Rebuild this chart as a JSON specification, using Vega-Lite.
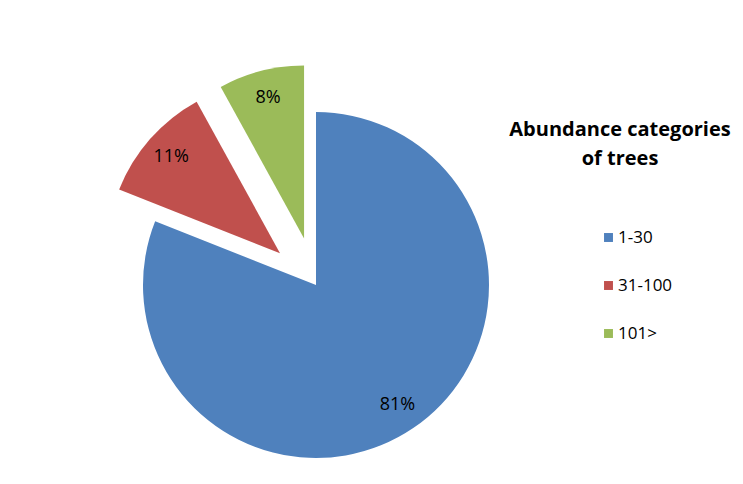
{
  "$schema": "https://vega.github.io/schema/vega-lite/v6.json",
  "width": 616,
  "height": 398,
  "autosize": "none",
  "padding": {"left": 8, "top": 86, "right": 119, "bottom": 0},
  "background": "white",
  "config": {"view": {"stroke": null}},
  "data": {"values": [
    {"category": "1-30", "share": 0.81, "rank": 1},
    {"category": "31-100", "share": 0.11, "rank": 2},
    {"category": "101>", "share": 0.08, "rank": 3}
  ]},
  "encoding": {
    "theta": {"field": "share", "type": "quantitative", "stack": true},
    "order": {"field": "rank", "type": "quantitative"}
  },
  "layer": [
    {
      "mark": {
        "type": "arc",
        "radius": 173,
        "xOffset": {"expr": "datum.rank == 1 ? 0 : 48 * sin(PI * (datum.share_start + datum.share_end))"},
        "yOffset": {"expr": "datum.rank == 1 ? 0 : -48 * cos(PI * (datum.share_start + datum.share_end))"}
      },
      "encoding": {
        "color": {
          "field": "category",
          "type": "nominal",
          "sort": ["1-30", "31-100", "101>"],
          "scale": {"domain": ["1-30", "31-100", "101>"], "range": ["#4F81BD", "#C0504D", "#9BBB59"]},
          "legend": {
            "title": ["Abundance categories", "of trees"],
            "orient": "none",
            "legendX": 501,
            "legendY": 34,
            "padding": 0,
            "titleFont": "Open Sans",
            "titleFontSize": 20,
            "titleFontWeight": "bold",
            "titleColor": "black",
            "titleAlign": "center",
            "titleAnchor": "middle",
            "titleLimit": 400,
            "titleLineHeight": 29,
            "titlePadding": 60,
            "labelFont": "Open Sans",
            "labelFontSize": 17,
            "labelColor": "black",
            "symbolType": "square",
            "symbolSize": 80,
            "symbolStrokeWidth": 0,
            "rowPadding": 30,
            "symbolOffset": 33,
            "labelOffset": 1
          }
        }
      }
    },
    {
      "mark": {
        "type": "text",
        "radius": 145,
        "font": "Open Sans",
        "fontSize": 18,
        "fill": "black",
        "xOffset": {"expr": "datum.rank == 1 ? 0 : 48 * sin(PI * (datum.share_start + datum.share_end))"},
        "yOffset": {"expr": "datum.rank == 1 ? 0 : -48 * cos(PI * (datum.share_start + datum.share_end))"}
      },
      "encoding": {
        "detail": {"field": "category", "type": "nominal"},
        "text": {"field": "share", "type": "quantitative", "format": ".0%"}
      }
    }
  ]
}
